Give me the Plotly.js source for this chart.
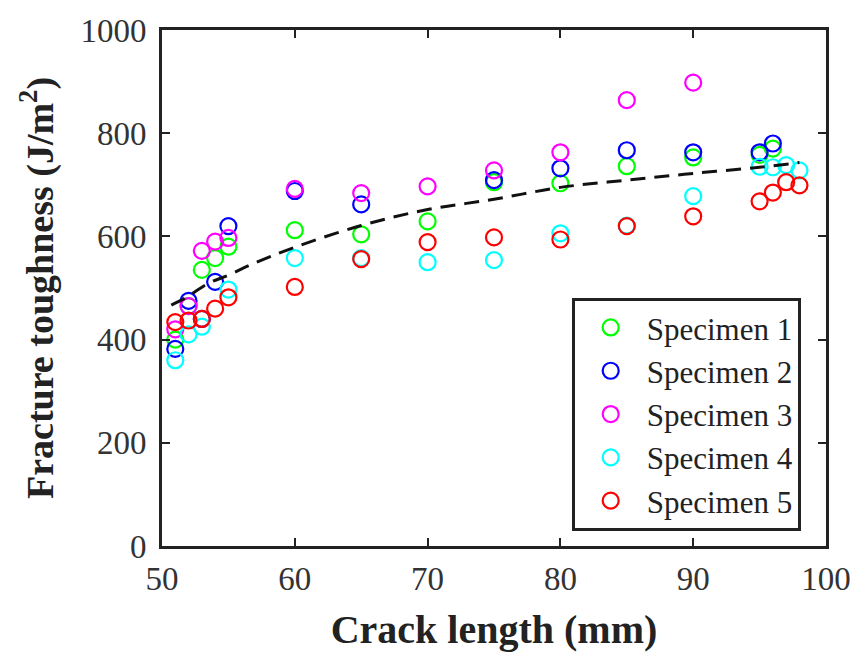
<!DOCTYPE html>
<html>
<head>
<meta charset="utf-8">
<script src="https://cdn.plot.ly/plotly-3.0.1.min.js"></script>
<style>html,body{margin:0;padding:0;background:#fff;}#chart{width:866px;height:663px;}</style>
</head>
<body>
<div id="chart"></div>
<script>
// Specimen data (crack length mm, fracture toughness J/m^2)
const s1x = [51, 52, 53, 54, 55, 60, 65, 70, 75, 80, 85, 90, 95, 96];
const s1y = [400, 465, 535, 558, 580, 612, 604, 629, 705, 703, 736, 753, 758, 770];
const s2x = [51, 52, 53, 54, 55, 60, 65, 75, 80, 85, 90, 95, 96];
const s2y = [382, 475, 440, 512, 620, 688, 662, 709, 732, 767, 763, 763, 780];
const s3x = [51, 52, 53, 54, 55, 60, 65, 70, 75, 80, 85, 90];
const s3y = [420, 465, 572, 590, 597, 692, 684, 697, 728, 763, 864, 898];
const s4x = [51, 52, 53, 55, 60, 65, 70, 75, 80, 85, 90, 95, 96, 97, 98];
const s4y = [360, 410, 425, 497, 558, 558, 550, 554, 606, 621, 678, 735, 734, 738, 728];
const s5x = [51, 52, 53, 54, 55, 60, 65, 70, 75, 80, 85, 90, 95, 96, 97, 98];
const s5y = [434, 437, 440, 460, 482, 502, 556, 589, 598, 594, 620, 639, 668, 685, 705, 699];
// fitted trend curve
const fitX = [50.7, 51.7, 53.5, 55, 56.6, 60, 65, 70, 75, 80, 85, 90, 95, 98];
const fitY = [467, 480, 509, 525, 544, 579, 621, 652, 672, 695, 709, 722, 734, 743];

const names = ['Specimen 1', 'Specimen 2', 'Specimen 3', 'Specimen 4', 'Specimen 5'];
const colors = ['#00ff00', '#0000ff', '#ff00ff', '#00ffff', '#ff0000'];
const xs = [s1x, s2x, s3x, s4x, s5x];
const ys = [s1y, s2y, s3y, s4y, s5y];

const traces = names.map((n, i) => ({
  type: 'scatter', mode: 'markers', name: n, x: xs[i], y: ys[i],
  marker: {symbol: 'circle-open', size: 16, color: colors[i], line: {color: colors[i], width: 2.2}}
}));
traces.push({
  type: 'scatter', mode: 'lines', x: fitX, y: fitY, showlegend: false,
  line: {color: '#111', width: 3, dash: '15px,9px', shape: 'spline'}
});

const serif = '"Liberation Serif", "Times New Roman", serif';
const layout = {
  width: 866, height: 663,
  margin: {l: 162, r: 40, t: 30, b: 117},
  paper_bgcolor: '#fff', plot_bgcolor: '#fff',
  font: {family: serif, color: '#333'},
  xaxis: {
    range: [50, 100], tickvals: [50, 60, 70, 80, 90, 100],
    ticks: 'inside', ticklen: 8, tickwidth: 2, tickcolor: '#222',
    showline: true, linewidth: 3, linecolor: '#222', mirror: 'ticks',
    showgrid: false, zeroline: false,
    tickfont: {size: 33, family: serif, color: '#333'},
    ticklabelstandoff: 1,
    title: {text: '<b>Crack length (mm)</b>', font: {size: 40, family: serif, color: '#222'}, standoff: 20}
  },
  yaxis: {
    range: [0, 1000], tickvals: [0, 200, 400, 600, 800, 1000],
    ticks: 'inside', ticklen: 8, tickwidth: 2, tickcolor: '#222',
    showline: true, linewidth: 3, linecolor: '#222', mirror: 'ticks',
    showgrid: false, zeroline: false,
    tickfont: {size: 33, family: serif, color: '#333'},
    ticklabelstandoff: 6,
    title: {text: '<b>Fracture toughness (J/m<sup>2</sup>)</b>', font: {size: 38, family: serif, color: '#222'}, standoff: 16}
  },
  showlegend: true,
  legend: {
    x: 0.617, y: 0.481, xanchor: 'left', yanchor: 'top',
    bgcolor: '#fff', bordercolor: '#222', borderwidth: 3,
    font: {size: 31, family: serif, color: '#222'},
    itemwidth: 62
  }
};

Plotly.newPlot('chart', traces, layout, {displayModeBar: false, staticPlot: true});
</script>
</body>
</html>
